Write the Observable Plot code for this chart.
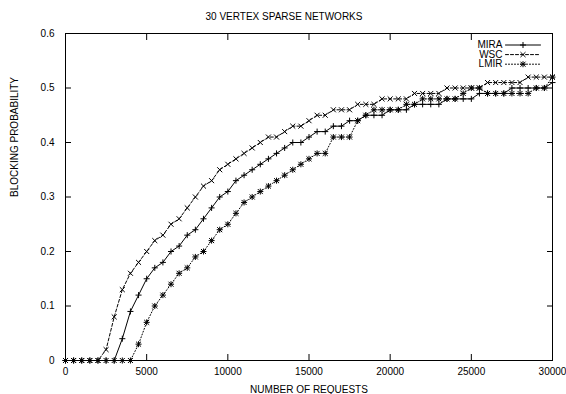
<!DOCTYPE html>
<html><head><meta charset="utf-8">
<script src="https://cdn.jsdelivr.net/npm/d3@7"></script>
<script src="https://cdn.jsdelivr.net/npm/@observablehq/plot@0.6"></script>
<style>
html,body{margin:0;padding:0;background:#fff}
svg{display:block}
</style>
</head><body>
<div id="chart"></div>
<script>
const title = "30 VERTEX SPARSE NETWORKS";
const xLabel = "NUMBER OF REQUESTS";
const yLabel = "BLOCKING PROBABILITY";

const requests = [0,500,1000,1500,2000,2500,3000,3500,4000,4500,
  5000,5500,6000,6500,7000,7500,8000,8500,9000,9500,
  10000,10500,11000,11500,12000,12500,13000,13500,14000,14500,
  15000,15500,16000,16500,17000,17500,18000,18500,19000,19500,
  20000,20500,21000,21500,22000,22500,23000,23500,24000,24500,
  25000,25500,26000,26500,27000,27500,28000,28500,29000,29500,30000];

const mira = [0,0,0,0,0, 0,0,0.04,0.09,0.12, 0.15,0.17,0.18,0.20,0.21,
  0.23,0.24,0.26,0.28,0.30, 0.31,0.33,0.34,0.35,0.36, 0.37,0.38,0.39,0.40,0.40,
  0.41,0.42,0.42,0.43,0.43, 0.44,0.44,0.45,0.45,0.45, 0.46,0.46,0.46,0.47,0.47,
  0.47,0.47,0.48,0.48,0.48, 0.48,0.49,0.49,0.49,0.49, 0.50,0.50,0.50,0.50,0.50, 0.51];

const wsc = [0,0,0,0,0, 0.02,0.08,0.13,0.16,0.18, 0.20,0.22,0.23,0.25,0.26,
  0.28,0.30,0.32,0.33,0.35, 0.36,0.37,0.38,0.39,0.40, 0.41,0.41,0.42,0.43,0.43,
  0.44,0.45,0.45,0.46,0.46, 0.46,0.47,0.47,0.47,0.48, 0.48,0.48,0.48,0.49,0.49,
  0.49,0.49,0.50,0.50,0.50, 0.50,0.50,0.51,0.51,0.51, 0.51,0.51,0.52,0.52,0.52, 0.52];

const lmir = [0,0,0,0,0, 0,0,0,0,0.03, 0.07,0.10,0.12,0.14,0.16,
  0.17,0.19,0.20,0.22,0.24, 0.25,0.27,0.29,0.30,0.31, 0.32,0.33,0.34,0.35,0.36,
  0.37,0.38,0.38,0.41,0.41, 0.41,0.44,0.45,0.46,0.46, 0.46,0.46,0.47,0.47,0.48,
  0.48,0.48,0.48,0.48,0.49, 0.50,0.50,0.49,0.49,0.49, 0.49,0.49,0.49,0.50,0.50, 0.52];

const seriesNames = ["MIRA", "WSC", "LMIR"];
const seriesValues = [mira, wsc, lmir];
const seriesDash = [null, "3,2", "1,2"];
const seriesSymbols = [["plus"], ["times"], ["plus", "times"]];

const xTicks = [0,5000,10000,15000,20000,25000,30000];
const yTicks = [0,0.1,0.2,0.3,0.4,0.5,0.6];

const symR = {plus: 2.1, times: 2.4};

const marks = [];
seriesNames.forEach((name, i) => {
  const rows = requests.map((r, j) => ({requests: r, value: seriesValues[i][j], series: name}));
  marks.push(Plot.line(rows, {x: "requests", y: "value", stroke: "black", strokeWidth: 1, strokeDasharray: seriesDash[i]}));
  seriesSymbols[i].forEach(sym => {
    marks.push(Plot.dot(rows, {x: "requests", y: "value", symbol: sym, r: symR[sym], stroke: "black", strokeWidth: 1}));
  });
});

// legend (inside top-right)
const lineShape = {draw(context, l) { context.moveTo(0, 0); context.lineTo(0, -l); }};
seriesNames.forEach((name, i) => {
  const dy = 11.5 + 9.6 * i;
  marks.push(Plot.text([name], {text: d => d, frameAnchor: "top-right", dx: -50, dy, textAnchor: "end", lineAnchor: "middle", fill: "black"}));
  marks.push(Plot.vector([name], {frameAnchor: "top-right", dx: -29.5, dy, rotate: 90, length: 35, anchor: "middle", shape: lineShape, stroke: "black", strokeWidth: 1, strokeDasharray: seriesDash[i]}));
  seriesSymbols[i].forEach(sym => {
    marks.push(Plot.dot([name], {frameAnchor: "top-right", dx: -29.5, dy, symbol: sym, r: symR[sym], stroke: "black", strokeWidth: 1}));
  });
});

const chart = Plot.plot({
  width: 566,
  height: 394,
  marginLeft: 65,
  marginRight: 14,
  marginTop: 33,
  marginBottom: 34,
  style: {fontFamily: "'Liberation Sans', Arial, Helvetica, sans-serif", fontSize: "10px", color: "black", background: "white"},
  x: {domain: [0, 30000]},
  y: {domain: [0, 0.6]},
  marks: [
    Plot.frame({stroke: "black", strokeWidth: 1}),
    Plot.axisX(xTicks, {anchor: "bottom", tickSize: -6, tickPadding: 13, tickFormat: d3.format("d"), label: null, fill: "black"}),
    Plot.axisX(xTicks, {anchor: "top", tickSize: -6, tickFormat: () => "", label: null}),
    Plot.axisY(yTicks, {anchor: "left", tickSize: -6, tickPadding: 17, tickFormat: d => String(d), label: null, fill: "black"}),
    Plot.axisY(yTicks, {anchor: "right", tickSize: -6, tickFormat: () => "", label: null}),
    ...marks,
    Plot.text([title], {text: d => d, frameAnchor: "top", dx: -25, dy: -17, lineAnchor: "middle", fill: "black"}),
    Plot.text([xLabel], {text: d => d, frameAnchor: "bottom", dy: 29, lineAnchor: "middle", fill: "black"}),
    Plot.text([yLabel], {text: d => d, frameAnchor: "left", dx: -51, rotate: -90, lineAnchor: "middle", fill: "black"})
  ]
});
document.getElementById("chart").appendChild(chart);
</script>
</body></html>
